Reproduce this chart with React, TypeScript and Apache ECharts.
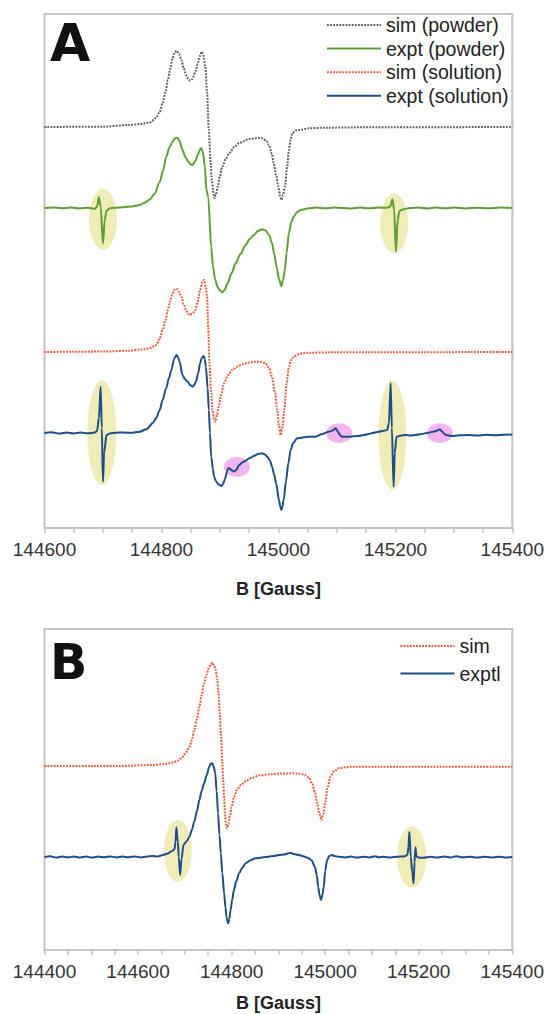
import React, { useEffect, useRef } from "react";
import * as echarts from "echarts";

// ---------- Panel A (x: 144600..145400 G), signals relative to each trace baseline ----------
const xTicksA = { min: 144600, max: 145400, step: 50, labelStep: 200 };
const xTicksB = { min: 144400, max: 145400, step: 50, labelStep: 200 };

const offsetsA = { simPowder: 401, exptPowder: 320, simSolution: 176, exptSolution: 95 };
const offsetsB = { sim: 184, exptl: 93 };

const simPowder: number[][] = [
  [144600, 0], [144700, 0.3], [144745, 2], [144765, 3], [144780, 4.5], [144791, 9], [144797, 15],
  [144802, 24], [144807, 35], [144811, 47], [144815, 58], [144819, 69], [144823, 75], [144826, 76.3],
  [144830, 73], [144834, 67], [144838, 59], [144842, 52], [144846, 48], [144849, 46.3], [144853, 48],
  [144858, 55.3], [144862, 63], [144865, 70.3], [144869, 75.3], [144872, 71], [144875, 60.3],
  [144878, 35], [144881, -3], [144884, -35], [144886, -53], [144889, -66], [144891, -71.3],
  [144893, -68], [144896, -59.7], [144900, -49], [144904, -39.7], [144910, -32], [144916, -26],
  [144925, -20], [144933, -16], [144950, -12], [144965, -11], [144972, -11.3], [144979, -13.5],
  [144984, -18], [144989, -27], [144992, -36], [144996, -48], [145000, -59.7], [145003, -69],
  [145005, -73], [145008, -68], [145011, -59.7], [145015, -40], [145018, -23], [145021, -12],
  [145024, -6], [145030, -3.5], [145035, -3], [145052, -1.3], [145080, -0.7], [145150, -0.3],
  [145400, 0],
];

const exptPowder: number[][] = [
  [144600, 0], [144615, 0.6], [144630, -0.3], [144645, 0.5], [144660, -0.4], [144675, 0.3],
  [144686, -0.8], [144690, 1.5], [144693, 10.7], [144696, 2], [144700, -35.3], [144703, -12],
  [144706, -3], [144711, -0.5], [144720, 0.3], [144735, 0.8], [144750, 1.5], [144763, 3],
  [144772, 5.5], [144780, 8.5], [144788, 14], [144797, 26], [144803, 38], [144808, 51],
  [144814, 61], [144819, 66.5], [144824, 70], [144827, 70.3], [144831, 67], [144836, 58],
  [144841, 51], [144846, 46.3], [144850, 43.5], [144853, 43], [144858, 47], [144862, 53],
  [144866, 58.5], [144868, 59.7], [144871, 56], [144874, 42], [144877, 18], [144880, 11.3],
  [144885, -38.7], [144888, -58], [144892, -72], [144896, -79], [144900, -82.5], [144904, -84.3],
  [144908, -82], [144913, -75.3], [144920, -65], [144927, -55.3], [144935, -46], [144944, -37],
  [144951, -31], [144958, -27], [144965, -23], [144972, -21.3], [144978, -22.5], [144984, -27],
  [144989, -35], [144993, -46], [144997, -59], [145001, -71], [145005, -78], [145008, -72],
  [145011, -62], [145014, -45], [145018, -25], [145022, -14], [145026, -8.7], [145032, -4],
  [145038, -2], [145052, -0.3], [145065, 0.4], [145080, -0.3], [145095, 0.5], [145110, 0],
  [145125, -0.5], [145140, 0.4], [145155, -0.3], [145170, 0.5], [145185, 0.2], [145191, 1.3],
  [145195, 8.7], [145198, -2], [145201, -43.7], [145204, -12], [145207, -3], [145214, -1.3],
  [145225, 0], [145240, 0.6], [145255, -0.4], [145270, 0.5], [145285, -0.3], [145300, 0.4],
  [145320, -0.4], [145340, 0.3], [145360, -0.3], [145380, 0.4], [145400, 0],
];

const simSolution: number[][] = [
  [144600, 0], [144700, 0.4], [144745, 1.3], [144765, 2.5], [144780, 3.7], [144791, 7],
  [144797, 13], [144802, 22], [144807, 32], [144811, 42], [144815, 51], [144819, 58.7],
  [144823, 62.5], [144827, 63], [144830, 60], [144834, 55.3], [144838, 48], [144842, 42],
  [144846, 38], [144849, 37], [144853, 38.5], [144858, 42], [144862, 50], [144866, 62],
  [144870, 70], [144873, 72], [144876, 65], [144878, 55.3], [144880, 25], [144882, -11],
  [144885, -40], [144887, -58], [144890, -67], [144892, -69.7], [144895, -63], [144898, -54.7],
  [144902, -43], [144907, -31.3], [144914, -23], [144921, -18], [144930, -14.5], [144938, -12.3],
  [144950, -10.5], [144961, -9.7], [144970, -10], [144978, -11.3], [144984, -16], [144989, -24.7],
  [144994, -40], [144998, -58], [145001, -74], [145004, -83], [145007, -75], [145010, -58],
  [145014, -32], [145018, -14.7], [145022, -8], [145026, -4.7], [145033, -2.5], [145041, -1.3],
  [145052, -0.7], [145100, -0.3], [145400, 0],
];

const exptSolution: number[][] = [
  [144600, 0], [144612, 0.8], [144625, -0.5], [144638, 0.6], [144650, -0.4], [144662, 0.5],
  [144675, -0.3], [144686, 0.5], [144690, 2], [144693, 15], [144696, 46.3], [144698, 5],
  [144700, -48.7], [144702, -20], [144706, -2], [144712, -0.5], [144722, 0.3], [144735, 0.5],
  [144748, 0.2], [144763, 1.3], [144774, 3.7], [144785, 9.7], [144791, 15], [144797, 23],
  [144802, 33], [144808, 44.7], [144813, 55], [144817, 63], [144822, 74.7], [144826, 78],
  [144829, 75], [144831, 71.3], [144836, 58], [144840, 54], [144845, 51.3], [144849, 48],
  [144853, 46.3], [144856, 48], [144859, 51.3], [144863, 60], [144866, 69.7], [144869, 75],
  [144872, 77], [144874, 74], [144876, 66.3], [144879, 45], [144881, 23], [144883, 0],
  [144885, -23.7], [144888, -36], [144890, -43.7], [144893, -48], [144896, -50.3], [144899, -52],
  [144903, -53], [144906, -50], [144909, -45.3], [144912, -39], [144914, -35.3], [144917, -35.5],
  [144919, -37], [144924, -38.5], [144928, -37], [144933, -32], [144938, -29.5], [144944, -27.7],
  [144951, -25], [144958, -23], [144965, -21], [144972, -20.3], [144977, -21.5], [144981, -23.7],
  [144986, -28], [144989, -33.7], [144993, -42], [144996, -50.3], [145001, -67], [145003, -73],
  [145005, -77], [145007, -73], [145009, -67], [145013, -48], [145017, -30.3], [145021, -17],
  [145025, -10.3], [145032, -5.3], [145042, -4.5], [145052, -3.7], [145063, -3.7], [145075, -1],
  [145086, 1.3], [145093, 2.5], [145098, 4.7], [145102, 1], [145106, -2.5], [145109, -3.7],
  [145120, -3.7], [145130, -3.2], [145137, -3], [145146, -2], [145154, -1], [145163, 0.3],
  [145171, 1.3], [145180, 2.3], [145186, 3], [145189, 10], [145192, 49.7], [145194, 5],
  [145197, -53.7], [145199, -20], [145202, -3.7], [145210, -2.5], [145217, -2], [145226, -2.5],
  [145234, -2], [145245, -1], [145256, 0.3], [145266, 1.5], [145272, 2.5], [145276, 3.7],
  [145280, 1.5], [145284, -1], [145287, -2], [145296, -3], [145310, -2.3], [145324, -2],
  [145340, -2.5], [145355, -1.8], [145370, -2.3], [145385, -1.7], [145400, -1.5],
];

// ---------- Panel B (x: 144400..145400 G) ----------
const simB: number[][] = [
  [144400, 0], [144500, 0], [144561, 0], [144631, 1], [144655, 2], [144674, 3.3], [144686, 5.5],
  [144695, 9.3], [144703, 14], [144710, 19.3], [144715, 26], [144720, 36], [144726, 47],
  [144731, 59.3], [144736, 71], [144741, 82.7], [144746, 91], [144751, 97.7], [144755, 101.5],
  [144759, 103.3], [144763, 100.5], [144766, 96], [144769, 87], [144772, 72.7], [144775, 52],
  [144777, 32.7], [144780, 5], [144782, -14], [144784, -33], [144786, -50.7], [144788, -58],
  [144790, -62.3], [144793, -58], [144796, -50.7], [144800, -41], [144805, -30.7], [144812, -23.5],
  [144820, -19], [144832, -14.5], [144844, -11.7], [144860, -9.5], [144880, -8.3], [144905, -7.5],
  [144929, -7.3], [144945, -7.7], [144958, -9], [144966, -12], [144972, -17.3], [144978, -26],
  [144983, -37.3], [144988, -48], [144992, -54], [144996, -48], [145000, -37.3], [145005, -22],
  [145011, -10.7], [145018, -5.5], [145029, -2.3], [145045, -1.2], [145057, -0.7], [145114, -0.7],
  [145250, -0.7], [145400, -0.7],
];

const exptlB: number[][] = [
  [144400, 0], [144412, 0.8], [144425, -0.6], [144438, 0.5], [144450, -0.4], [144463, 0.6],
  [144476, -0.5], [144489, 0.4], [144502, -0.6], [144515, 0.5], [144528, -0.3], [144541, 0.6],
  [144554, -0.4], [144567, 0.5], [144580, -0.3], [144593, 0.6], [144606, -0.4], [144619, 0.4],
  [144631, 1], [144642, 0.5], [144653, 2], [144664, 3.5], [144674, 6.3], [144678, 8],
  [144680, 15], [144682, 29.7], [144685, 15], [144687, 0], [144690, -18], [144693, -2],
  [144697, 12], [144703, 15.3], [144710, 20.3], [144715, 27], [144720, 35.3], [144726, 46],
  [144731, 57], [144736, 66], [144741, 73.7], [144747, 82], [144752, 90.3], [144756, 93.5],
  [144759, 93.7], [144762, 90], [144765, 83.7], [144768, 66], [144771, 43.7], [144774, 22],
  [144777, 3.7], [144780, -16], [144784, -36.3], [144787, -51], [144789, -59.7], [144791, -64.5],
  [144793, -66.3], [144795, -62], [144798, -53], [144801, -43], [144805, -33], [144810, -24],
  [144816, -16.3], [144823, -10.5], [144830, -6.3], [144840, -3.2], [144851, -1.3], [144865, -0.5],
  [144880, 0.3], [144890, 1], [144901, 2], [144912, 2.5], [144920, 3.5], [144926, 4.3],
  [144932, 3], [144944, 2], [144955, 0.5], [144965, -1.3], [144971, -3.5], [144978, -9.7],
  [144982, -18], [144985, -29.7], [144988, -38], [144991, -43], [144994, -38], [144997, -29.7],
  [145000, -14], [145004, -3], [145009, 1], [145014, 2], [145020, 1], [145029, 0.3],
  [145042, -0.5], [145055, 0.4], [145068, -0.6], [145081, 0.3], [145094, -0.4], [145107, 0.8],
  [145114, -0.3], [145125, 0.2], [145140, -0.5], [145155, 0.3], [145166, 0.5], [145172, 1],
  [145176, 2.5], [145178, 10], [145180, 25.3], [145183, 0], [145186, -15], [145189, -26.3],
  [145191, -5], [145193, 9.7], [145195, 1], [145198, -0.5], [145210, -0.8], [145225, 0.2],
  [145240, -0.6], [145255, 0.4], [145268, -0.5], [145280, 0.8], [145295, -0.3], [145310, 0.2],
  [145325, -0.6], [145340, 0.3], [145355, -0.5], [145370, 0.2], [145385, -0.4], [145400, 0],
];

// Highlight ellipses: [B, y (axis units), widthPx, heightPx]
const yellowA: number[][] = [
  [144700, 308.7, 28, 61], [145198, 304.7, 28, 59],
  [144698, 95.3, 29, 105], [145195, 93, 28, 109],
];
const pinkA: number[][] = [
  [144929, 61, 26, 20], [145104, 94.7, 26, 20], [145276, 94.7, 26, 20],
];
const yellowB: number[][] = [
  [144685, 99, 28, 62], [145185, 93, 29, 61],
];

const FONT = "'Liberation Sans', Arial, sans-serif";
const ELLIPSE = "path://M0,50A50,50 0 1,1 100,50A50,50 0 1,1 0,50Z";
const FRAME = "#c3c3c3";

const shift = (arr: number[][], off: number) => arr.map(([x, y]) => [x, y + off]);

function xAxisCfg(idx: number, t: { min: number; max: number; step: number; labelStep: number }, margin: number, nameGap: number) {
  return {
    type: "value",
    gridIndex: idx,
    min: t.min,
    max: t.max,
    interval: t.step,
    name: "B [Gauss]",
    nameLocation: "middle",
    nameGap,
    nameTextStyle: { fontFamily: FONT, fontSize: 18, fontWeight: "bold", color: "#222" },
    axisLine: { show: true, lineStyle: { color: FRAME, width: 2 } },
    axisTick: { show: true, length: 5, inside: false, lineStyle: { color: FRAME, width: 1.5 } },
    axisLabel: {
      margin,
      fontFamily: FONT,
      fontSize: 19,
      color: "#333",
      formatter: (v: number) => (Math.round(v - t.min) % t.labelStep === 0 ? String(Math.round(v)) : ""),
    },
    splitLine: { show: false },
  };
}

function lineSeries(name: string, data: number[][], idx: number, color: string, dotted: boolean) {
  return {
    type: "line",
    name,
    xAxisIndex: idx,
    yAxisIndex: idx,
    data,
    symbol: "none",
    smooth: 0.3,
    smoothMonotone: "x",
    z: 3,
    lineStyle: dotted ? { color, width: 2, type: [1.8, 1.3] } : { color, width: 2 },
    itemStyle: { color },
  };
}

function ellipseSeries(list: number[][], idx: number, color: string) {
  return {
    type: "scatter",
    xAxisIndex: idx,
    yAxisIndex: idx,
    silent: true,
    z: 1,
    symbol: ELLIPSE,
    data: list.map(([x, y, w, h]) => ({ value: [x, y], symbolSize: [w, h] })),
    itemStyle: { color, opacity: 1 },
  };
}

export default function App() {
  const ref = useRef<HTMLDivElement>(null);
  useEffect(() => {
    if (!ref.current) return;
    const chart = echarts.init(ref.current, undefined, { renderer: "svg" });
    const grey = "#5c5c5c", green = "#5e9f32", red = "#f2542f", blue = "#1c4e89";
    const yellow = "#f0ecb6", pink = "#f4b4f1";
    const legendCommon = {
      orient: "vertical",
      itemWidth: 54,
      itemHeight: 12,
      padding: 0,
      selectedMode: false,
      itemStyle: { opacity: 0, borderWidth: 0 },
    };
    chart.setOption({
      animation: false,
      backgroundColor: "#ffffff",
      grid: [
        { left: 44.5, right: 32.5, top: 14, height: 514, show: true, borderColor: FRAME, borderWidth: 2, containLabel: false },
        { left: 44.5, right: 32.5, top: 629, height: 321, show: true, borderColor: FRAME, borderWidth: 2, containLabel: false },
      ],
      xAxis: [xAxisCfg(0, xTicksA, 12, 52), xAxisCfg(1, xTicksB, 11.5, 44)],
      yAxis: [
        { type: "value", gridIndex: 0, min: 0, max: 514, show: false },
        { type: "value", gridIndex: 1, min: 0, max: 321, show: false },
      ],
      legend: [
        {
          ...legendCommon,
          data: ["sim (powder)", "expt (powder)", "sim (solution)", "expt (solution)"],
          left: 326,
          top: 15,
          itemGap: 3.6,
          textStyle: { fontFamily: FONT, fontSize: 19.5, color: "#222" },
        },
        {
          ...legendCommon,
          data: ["sim", "exptl"],
          left: 399.5,
          top: 636,
          itemGap: 7.5,
          textStyle: { fontFamily: FONT, fontSize: 19.5, color: "#222" },
        },
      ],
      graphic: [
        { type: "text", left: 50, top: 17, style: { text: "A", fontFamily: "'DejaVu Sans', sans-serif", fontWeight: 900, fontSize: 52, fill: "#111" } },
        { type: "text", left: 50, top: 638, style: { text: "B", fontFamily: "'DejaVu Sans', sans-serif", fontWeight: 900, fontSize: 49, fill: "#111" } },
      ],
      series: [
        ellipseSeries(yellowA, 0, yellow),
        ellipseSeries(pinkA, 0, pink),
        ellipseSeries(yellowB, 1, yellow),
        lineSeries("sim (powder)", shift(simPowder, offsetsA.simPowder), 0, grey, true),
        lineSeries("expt (powder)", shift(exptPowder, offsetsA.exptPowder), 0, green, false),
        lineSeries("sim (solution)", shift(simSolution, offsetsA.simSolution), 0, red, true),
        lineSeries("expt (solution)", shift(exptSolution, offsetsA.exptSolution), 0, blue, false),
        lineSeries("sim", shift(simB, offsetsB.sim), 1, red, true),
        lineSeries("exptl", shift(exptlB, offsetsB.exptl), 1, blue, false),
      ],
    });
    return () => chart.dispose();
  }, []);
  return <div ref={ref} style={{ position: "absolute", left: 0, top: 0, width: 547, height: 1014 }} />;
}
